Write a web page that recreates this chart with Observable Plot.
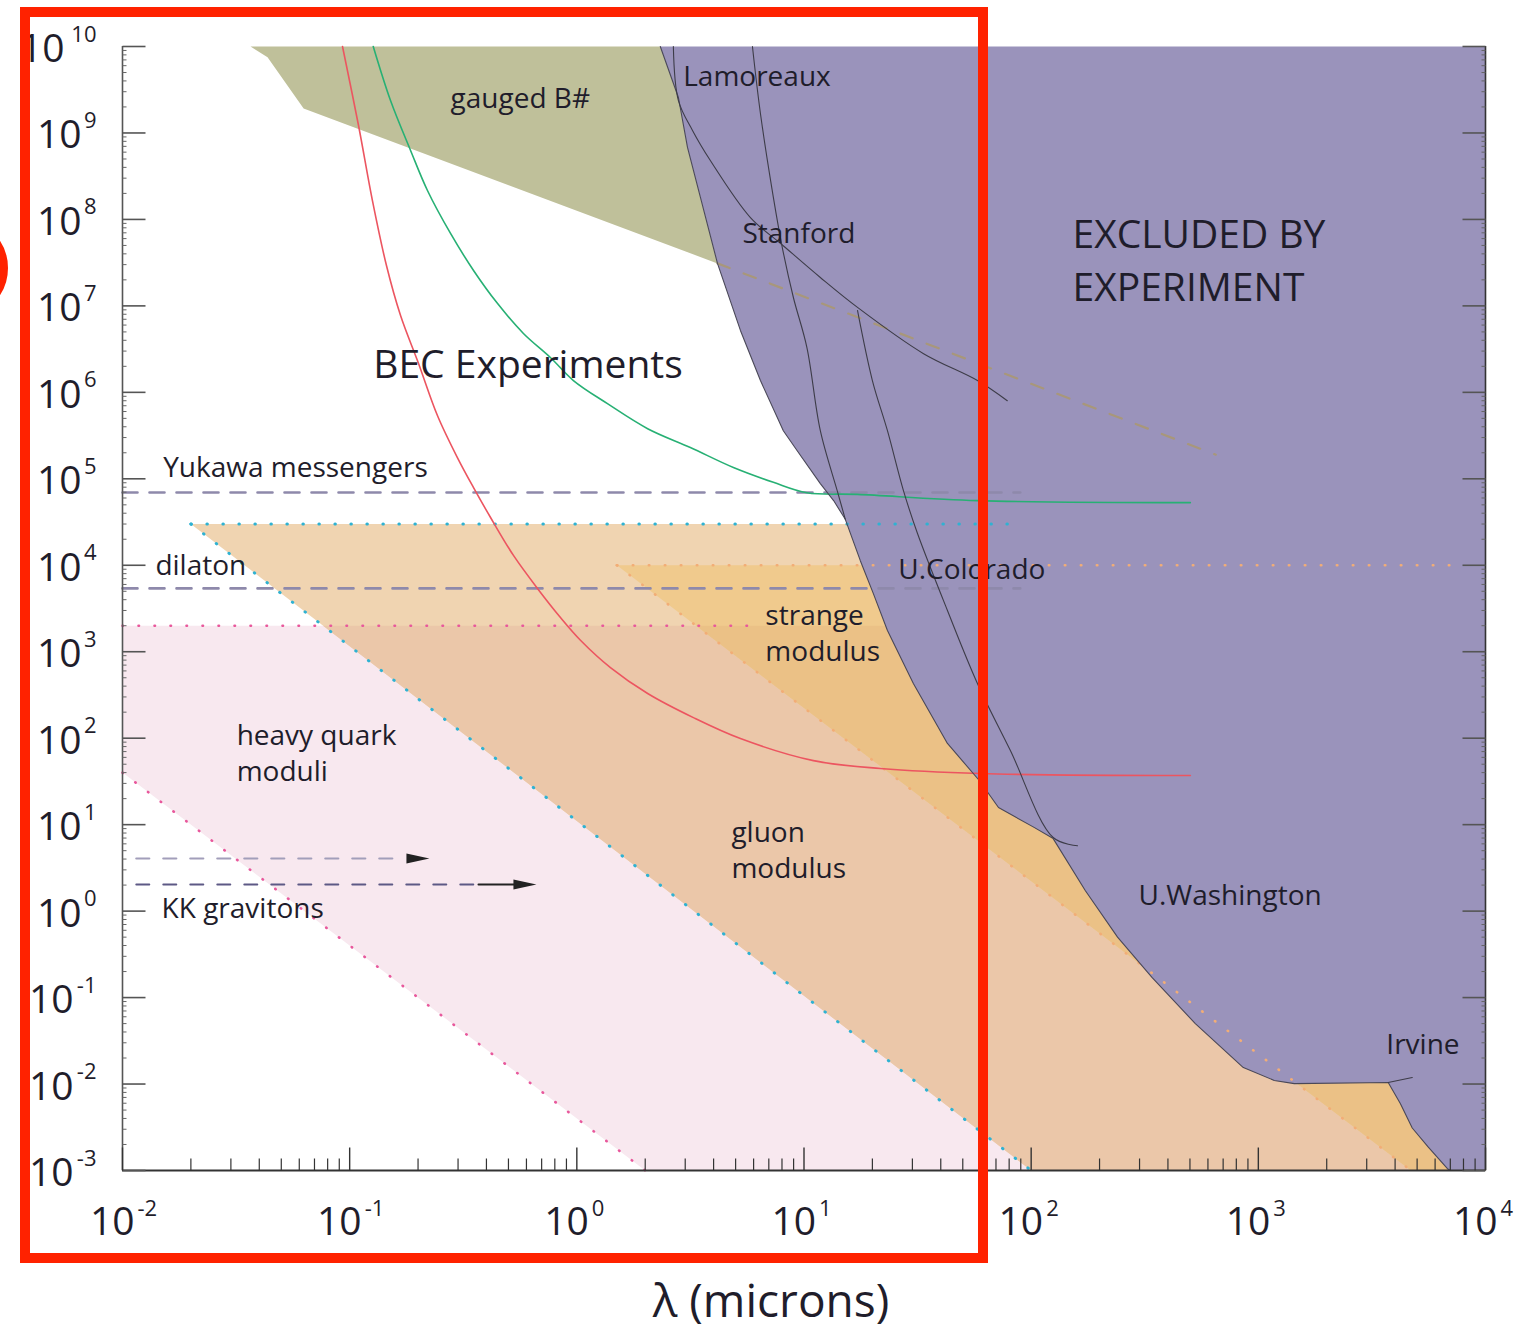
<!DOCTYPE html>
<html>
<head>
<meta charset="utf-8">
<script src="https://cdn.jsdelivr.net/npm/d3@7"></script>
<script src="https://cdn.jsdelivr.net/npm/@observablehq/plot@0.6"></script>
<style>
  body { margin: 0; background: #fff; }
  #wrap { position: relative; width: 1516px; height: 1333px; overflow: hidden; }
  #redbox { position: absolute; left: 20px; top: 7px; width: 968px; height: 1256px; box-sizing: border-box; border: 10px solid #ff2200; pointer-events: none; }
  #redring { position: absolute; left: -92px; top: 218px; width: 100px; height: 100px; box-sizing: border-box; border: 10px solid #ff2200; border-radius: 50%; pointer-events: none; }
</style>
</head>
<body>
<div id="wrap"></div>
<script>
// ---------- tick labels ----------
const xMajor = [1e-2, 1e-1, 1, 10, 100, 1e3, 1e4];
const xExp = ["-2", "-1", "0", "1", "2", "3", "4"];
const yMajor = [1e-3, 1e-2, 1e-1, 1, 10, 1e2, 1e3, 1e4, 1e5, 1e6, 1e7, 1e8, 1e9, 1e10];
const yExp = ["-3", "-2", "-1", "0", "1", "2", "3", "4", "5", "6", "7", "8", "9", "10"];
const minorMult = [2, 3, 4, 5, 6, 7, 8, 9];

// ---------- regions: [lambda (microns), alpha] ----------
const gluonRegion = [[0.02, 3e4], [1e4, 3e4], [1e4, 1e-3], [100, 1e-3]];
const strangeRegion = [[1.5, 1e4], [1e4, 1e4], [1e4, 1e-3], [4700, 1e-3]];
const heavyQuarkRegion = [[0.01, 2000], [1e4, 2000], [1e4, 1e-3], [2, 1e-3], [0.01, 40]];
const gaugedBRegion = [[0.0366, 1e10], [0.0435, 7.5e9], [0.0627, 1.92e9], [4.16, 3.1e7], [3.5, 1.8e8], [3.07, 6.8e8], [2.8, 2.57e9], [2.33, 1e10]];
const excludedEdge = [[2.33, 1e10], [2.8, 2.57e9], [3.07, 6.8e8], [3.5, 1.8e8], [4.16, 3.1e7], [5.25, 5.2e6], [6.43, 1.37e6], [8.11, 3.6e5], [9.35, 2.1e5], [11.8, 8.8e4], [13.5, 5.6e4], [15.2, 3.4e4], [17.7, 1.13e4], [20.2, 4.7e3], [23.3, 1.76e3], [30.3, 430], [42.8, 87], [59.1, 32.4], [71.8, 15.8], [103, 9.3], [125, 6.9], [173, 1.73], [240, 0.5], [341, 0.17], [528, 0.05], [859, 0.0155], [1175, 0.011], [1440, 0.0101], [3730, 0.0104], [4217, 5.96e-3], [4760, 3.1e-3], [5600, 1.86e-3], [6800, 1.05e-3], [7000, 1e-3]];
const excludedCorners = [[1e4, 1e-3], [1e4, 1e10]];

// ---------- experiment curves ----------
const lamoreaux = [[2.66, 1e10], [2.8, 2.37e9], [3.23, 1.07e9], [3.87, 4.8e8], [5.81, 1.05e8], [7.87, 5.3e7], [11.8, 2.13e7], [17.2, 9.6e6], [33.6, 2.8e6], [58, 1.37e6], [78.5, 8.0e5]];
const stanford = [[5.93, 1e10], [6.43, 1.68e9], [7.33, 1.8e8], [8.03, 4.7e7], [8.98, 1.25e7], [10.3, 3.3e6], [11.8, 3.6e5], [14.0, 7.3e4], [15.2, 3.4e4]];
const colorado = [[17.2, 8.85e6], [20.0, 1.37e6], [23.3, 3.6e5], [27.4, 7.3e4], [31.6, 2.33e4], [42.8, 3.0e3], [58, 430], [81, 72], [125, 7.1], [160, 5.7]];
const irvineTail = [[3730, 0.0104], [4760, 0.0119]];
const gaugedBExtension = [[4.16, 3.1e7], [650, 1.9e5]];

// ---------- BEC projections ----------
const becGreen = [[0.127, 1e10], [0.1513, 2.37e9], [0.1854, 6.27e8], [0.22, 2.16e8], [0.278, 6.88e7], [0.351, 2.57e7], [0.447, 1.07e7], [0.582, 4.8e6], [0.765, 2.53e6], [0.966, 1.37e6], [1.364, 7.4e5], [2.05, 3.8e5], [3.16, 2.3e5], [4.89, 1.35e5], [7.33, 9.1e4], [10.3, 6.9e4], [17.2, 6.6e4], [58, 5.6e4], [502, 5.3e4]];
const becRed = [[0.093, 1e10], [0.1094, 1.22e9], [0.1259, 1.66e8], [0.1452, 2.93e7], [0.1675, 7.74e6], [0.201, 2.16e6], [0.2434, 5.4e5], [0.298, 1.76e5], [0.351, 7.9e4], [0.417, 3.57e4], [0.526, 1.3e4], [0.671, 5.4e3], [0.847, 2.49e3], [1.04, 1.35e3], [1.406, 656], [2.05, 329], [3.26, 173], [5.25, 99], [11, 55], [21.7, 44.6], [59.7, 39], [502, 37]];

// ---------- theory lines ----------
const gluonTop = [[0.02, 3e4], [85, 3e4]];
const gluonEdge = [[0.02, 3e4], [100, 1e-3]];
const strangeTop = [[1.5, 1e4], [7000, 1e4]];
const strangeEdge = [[1.5, 1e4], [4700, 1e-3]];
const heavyTop = [[0.01, 2000], [6.4, 2000]];
const heavyEdge = [[0.01, 40], [2, 1e-3]];
const yukawa = [[0.01, 6.95e4], [89.5, 6.95e4]];
const dilaton = [[0.01, 5.4e3], [89.5, 5.4e3]];
const kk1 = [[0.0115, 4.06], [0.176, 4.06]];
const kk2dash = [[0.0115, 2.03], [0.369, 2.03]];
const kk2solid = [[0.369, 2.03], [0.6, 2.03]];
const kkHeads = [{tip: 0.2245, a: 4.06}, {tip: 0.664, a: 2.03}];

// ---------- labels ----------
const labels = [
  {t: "gauged B#", l: 0.278, a: 2.5e9, s: 28},
  {t: "Lamoreaux", l: 2.94, a: 4.4e9, s: 28},
  {t: "Stanford", l: 5.36, a: 6.7e7, s: 28},
  {t: "EXCLUDED BY", l: 152, a: 6.5e7, s: 39},
  {t: "EXPERIMENT", l: 152, a: 1.58e7, s: 39},
  {t: "BEC Experiments", l: 0.127, a: 2.04e6, s: 39},
  {t: "Yukawa messengers", l: 0.0151, a: 1.35e5, s: 28},
  {t: "dilaton", l: 0.01396, a: 9.7e3, s: 28},
  {t: "U.Colorado", l: 26, a: 8.7e3, s: 28},
  {t: "strange", l: 6.76, a: 2.6e3, s: 28},
  {t: "modulus", l: 6.76, a: 980, s: 28},
  {t: "heavy quark", l: 0.0318, a: 107, s: 28},
  {t: "moduli", l: 0.0318, a: 41, s: 28},
  {t: "gluon", l: 4.79, a: 8.1, s: 28},
  {t: "modulus", l: 4.79, a: 3.1, s: 28},
  {t: "KK gravitons", l: 0.01486, a: 1.07, s: 28},
  {t: "U.Washington", l: 297, a: 1.51, s: 28},
  {t: "Irvine", l: 3660, a: 0.0286, s: 28}
];

// ---------- helpers ----------
const P = {x: d => d[0], y: d => d[1]};
const poly = (pts, fill, extra = {}) => Plot.line(pts, {...P, fill, stroke: "none", ...extra});
const path = (pts, stroke, strokeWidth, extra = {}) => Plot.line(pts, {...P, stroke, strokeWidth, ...extra});
const dotted = (pts, stroke, w = 3) => Plot.line(pts, {...P, stroke, strokeWidth: w, strokeDasharray: "0.5,15.5", strokeLinecap: "round"});
const tickSym = (ux, uy) => ({draw(ctx, size) { const l = Math.sqrt(size / Math.PI); ctx.moveTo(0, 0); ctx.lineTo(ux * l, uy * l); }});
const arrowSym = {draw(ctx, size) { const l = Math.sqrt(size / Math.PI); ctx.moveTo(0, 0); ctx.lineTo(-l, -l * 0.22); ctx.lineTo(-l, l * 0.22); ctx.closePath(); }};
// lambda where a straight (log-log) edge reaches a given alpha
const crossAt = ([[l1, a1], [l2, a2]], a) => {
  const t = (Math.log(a) - Math.log(a1)) / (Math.log(a2) - Math.log(a1));
  return Math.exp(Math.log(l1) + t * (Math.log(l2) - Math.log(l1)));
};
const pinkTop = heavyTop[0][1];
const gluonOverPink = [[crossAt(gluonEdge, pinkTop), pinkTop], [1e4, pinkTop], gluonRegion[2], gluonRegion[3]];
const strangeOverPink = [[crossAt(strangeEdge, pinkTop), pinkTop], [1e4, pinkTop], strangeRegion[2], strangeRegion[3]];

const yMinor = yMajor.slice(0, -1).flatMap(v => minorMult.map(m => v * m));
const xMinor = xMajor.slice(0, -1).flatMap(v => minorMult.map(m => v * m));
const yLab = yMajor.map((v, i) => ({v, e: yExp[i]}));
const xLab = xMajor.map((v, i) => ({v, e: xExp[i]}));

const fontFamily = '"Open Sans", "Noto Sans", "DejaVu Sans", sans-serif';
const ink = "#1f1d2b";

const plot = Plot.plot({
  width: 1516,
  height: 1333,
  marginLeft: 122,
  marginRight: 31,
  marginTop: 46,
  marginBottom: 163,
  x: {type: "log", domain: [1e-2, 1e4], axis: null},
  y: {type: "log", domain: [1e-3, 1e10], axis: null},
  style: {fontFamily, background: "white", overflow: "visible"},
  marks: [
    // filled regions
    poly(heavyQuarkRegion, "#f8e8ef"),
    poly(gluonRegion, "#f0d4b1"),
    poly(gluonOverPink, "#ebc7a9"),
    poly(strangeRegion, "#f0ca8d"),
    poly(strangeOverPink, "#ebc186"),
    poly(gaugedBRegion, "#bfc09a"),
    poly([...excludedEdge, ...excludedCorners], "#9a93bb"),

    // dotted theory boundaries
    dotted(heavyTop, "#e8589c", 2.6),
    dotted(heavyEdge, "#e8589c", 2.6),
    dotted(gluonTop, "#2fb2d2", 3),
    dotted(gluonEdge, "#2fb2d2", 3),
    dotted(strangeTop, "#f2ad76", 2.6),
    dotted(strangeEdge, "#f2ad76", 2.6),

    // dashed lines
    path(yukawa, "#8e89ab", 2.6, {strokeDasharray: "15,12"}),
    path(dilaton, "#8e89ab", 2.6, {strokeDasharray: "15,12"}),
    path(kk1, "#a29eba", 2.2, {strokeDasharray: "13,14"}),
    path(kk2dash, "#5d5985", 2, {strokeDasharray: "13,14"}),
    path(kk2solid, "#222", 2),
    path(gaugedBExtension, "#a8977a", 2.2, {strokeDasharray: "13,15"}),

    // BEC curves
    path(becGreen, "#27b074", 1.6, {curve: "catmull-rom"}),
    path(becRed, "#ec5560", 1.6, {curve: "catmull-rom"}),

    // experimental curves
    path(excludedEdge, "#4a4858", 1.1),
    path(lamoreaux, "#3d3c48", 1.1, {curve: "catmull-rom"}),
    path(stanford, "#3d3c48", 1.1, {curve: "catmull-rom"}),
    path(colorado, "#3d3c48", 1.1, {curve: "catmull-rom"}),
    path(irvineTail, "#3d3c48", 1.1),

    // arrowheads
    Plot.dot(kkHeads, {x: "tip", y: "a", symbol: arrowSym, r: 23, fill: "#222", stroke: "none"}),

    // labels
    Plot.text(labels, {x: "l", y: "a", text: "t", fontSize: "s", textAnchor: "start", lineAnchor: "middle", fill: ink}),

    // axes lines
    Plot.ruleX([1e-2], {stroke: "#555", strokeWidth: 1.6}),
    Plot.ruleX([1e4], {stroke: "#333", strokeWidth: 1.6}),
    Plot.ruleY([1e-3], {stroke: "#333", strokeWidth: 2}),

    // ticks
    Plot.dot(yMajor, {y: d => d, frameAnchor: "left", symbol: tickSym(1, 0), r: 23, stroke: "#555", strokeWidth: 1.6, fill: "none"}),
    Plot.dot(yMinor, {y: d => d, frameAnchor: "left", symbol: tickSym(1, 0), r: 4, stroke: "#666", strokeWidth: 1, fill: "none"}),
    Plot.dot(yMajor, {y: d => d, frameAnchor: "right", symbol: tickSym(-1, 0), r: 23, stroke: "#555", strokeWidth: 1.6, fill: "none"}),
    Plot.dot(yMinor, {y: d => d, frameAnchor: "right", symbol: tickSym(-1, 0), r: 4, stroke: "#666", strokeWidth: 1, fill: "none"}),
    Plot.dot(xMajor, {x: d => d, frameAnchor: "bottom", symbol: tickSym(0, -1), r: 23, stroke: "#333", strokeWidth: 1.4, fill: "none"}),
    Plot.dot(xMinor, {x: d => d, frameAnchor: "bottom", symbol: tickSym(0, -1), r: 12, stroke: "#333", strokeWidth: 1.2, fill: "none"}),

    // y tick labels (10 + superscript exponent)
    Plot.text(yLab.filter(d => d.e.length === 1), {y: "v", frameAnchor: "left", text: () => "10", textAnchor: "end", lineAnchor: "middle", dx: -41, dy: 3, fontSize: 39, fill: ink}),
    Plot.text(yLab.filter(d => d.e.startsWith("-")), {y: "v", frameAnchor: "left", text: () => "10", textAnchor: "end", lineAnchor: "middle", dx: -49, dy: 3, fontSize: 39, fill: ink}),
    Plot.text(yLab.filter(d => d.e === "10"), {y: "v", frameAnchor: "left", text: () => "10", textAnchor: "end", lineAnchor: "middle", dx: -58, dy: 3, fontSize: 39, fill: ink}),
    Plot.text(yLab, {y: "v", frameAnchor: "left", text: "e", textAnchor: "end", lineAnchor: "middle", dx: -26, dy: -12, fontSize: 22, fill: ink}),

    // x tick labels
    Plot.text(xLab, {x: "v", frameAnchor: "bottom", text: () => "10", textAnchor: "end", lineAnchor: "middle", dx: 12, dy: 52, fontSize: 39, fill: ink}),
    Plot.text(xLab, {x: "v", frameAnchor: "bottom", text: "e", textAnchor: "start", lineAnchor: "middle", dx: 15, dy: 38, fontSize: 22, fill: ink}),

    // x axis title
    Plot.text(["λ (microns)"], {frameAnchor: "bottom", text: d => d, lineAnchor: "middle", dx: -33, dy: 132, fontSize: 46, fill: ink})
  ]
});

const wrap = document.getElementById("wrap");
wrap.appendChild(plot);
const box = document.createElement("div"); box.id = "redbox"; wrap.appendChild(box);
const ring = document.createElement("div"); ring.id = "redring"; wrap.appendChild(ring);
</script>
</body>
</html>
